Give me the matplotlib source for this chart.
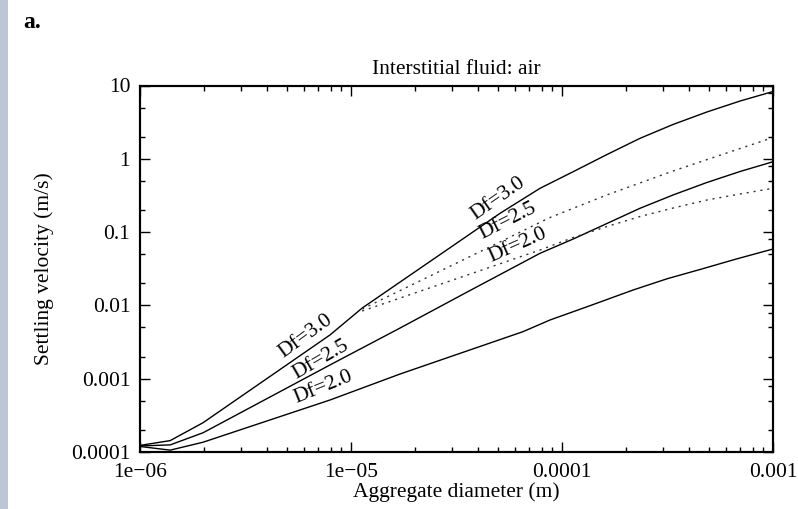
import matplotlib
matplotlib.use("Agg")
import matplotlib.pyplot as plt
from matplotlib.ticker import LogLocator, FixedLocator, FixedFormatter, NullFormatter
from matplotlib.patches import Rectangle

plt.rcParams['font.family'] = ['Liberation Serif', 'DejaVu Serif']
plt.rcParams['font.size'] = 15.5

# aggregate diameter (m) / settling velocity (m/s)
d_df30 = [1.0e-6, 1.39e-6, 1.99e-6, 7.95e-6, 1.13e-5, 3.55e-5, 5.08e-5, 7.87e-5,
          1.13e-4, 1.63e-4, 2.34e-4, 3.36e-4, 4.86e-4, 6.98e-4, 1.0e-3]
v_df30 = [1.23e-4, 1.43e-4, 2.51e-4, 3.95e-3, 9.2e-3, 0.0885, 0.18, 0.396,
          0.667, 1.14, 1.90, 2.94, 4.35, 6.14, 8.28]

d_df25 = [1.0e-6, 1.39e-6, 1.99e-6, 7.95e-6, 1.71e-5, 3.55e-5, 7.87e-5, 1.13e-4,
          2.34e-4, 3.36e-4, 4.86e-4, 6.98e-4, 1.0e-3]
v_df25 = [1.21e-4, 1.25e-4, 1.83e-4, 1.54e-3, 4.92e-3, 0.0152, 0.0514, 0.0805,
          0.211, 0.321, 0.475, 0.671, 0.912]

d_df20 = [1.0e-6, 1.39e-6, 1.99e-6, 7.95e-6, 1.71e-5, 6.53e-5, 8.77e-5, 1.36e-4,
          2.17e-4, 3.15e-4, 4.51e-4, 6.75e-4, 1.0e-3]
v_df20 = [1.19e-4, 1.06e-4, 1.36e-4, 5.12e-4, 1.16e-3, 4.38e-3, 6.32e-3, 9.93e-3,
          0.0162, 0.0231, 0.0309, 0.0432, 0.0588]

# dotted (alternative) curves, starting at ~1.1e-5 m
d_dot25 = [1.13e-5, 2.45e-5, 5.08e-5, 8.77e-5, 1.63e-4, 3.36e-4, 6.98e-4, 1.0e-3]
v_dot25 = [8.93e-3, 0.0264, 0.0733, 0.158, 0.321, 0.682, 1.38, 1.95]

d_dot20 = [1.13e-5, 2.94e-5, 7.87e-5, 1.13e-4, 1.63e-4, 2.34e-4, 3.36e-4,
           4.86e-4, 6.98e-4, 1.0e-3]
v_dot20 = [8.39e-3, 0.0215, 0.0570, 0.0844, 0.119, 0.163, 0.213,
           0.274, 0.331, 0.396]

# curve labels: text, x, y, angle
labels = [
    ("Df=3.0", 6.1e-6, 3.8e-3, 36),
    ("Df=2.5", 7.2e-6, 1.80e-3, 30),
    ("Df=2.0", 7.4e-6, 7.6e-4, 22),
    ("Df=3.0", 4.98e-5, 0.29, 35),
    ("Df=2.5", 5.55e-5, 0.143, 27),
    ("Df=2.0", 6.2e-5, 0.066, 24),
]

xticks = [1e-6, 1e-5, 1e-4, 1e-3]
xticklabels = ["1e\u221206", "1e\u221205", "0.0001", "0.001"]
yticks = [1e-4, 1e-3, 1e-2, 1e-1, 1, 10]
yticklabels = ["0.0001", "0.001", "0.01", "0.1", "1", "10"]

fig = plt.figure(figsize=(7.98, 5.09), dpi=100)
fig.patches.append(Rectangle((0, 0), 8 / 798, 1, transform=fig.transFigure,
                             facecolor="#bdc6d4", edgecolor="none"))
ax = fig.add_axes([140 / 798, 1 - 452 / 509, 633 / 798, 366.5 / 509])

ax.plot(d_df30, v_df30, color="k", lw=1.0)
ax.plot(d_df25, v_df25, color="k", lw=1.0)
ax.plot(d_df20, v_df20, color="k", lw=1.0)
ax.plot(d_dot25, v_dot25, color="#333333", lw=1.0, ls=(0, (1.5, 3.5)))
ax.plot(d_dot20, v_dot20, color="#333333", lw=1.0, ls=(0, (1.5, 3.5)))

for txt, x, y, ang in labels:
    ax.text(x, y, txt, rotation=ang, rotation_mode="anchor",
            ha="center", va="center", fontsize=15.5)

ax.set_xscale("log")
ax.set_yscale("log")
ax.set_xlim(1e-6, 1e-3)
ax.set_ylim(1e-4, 10)

ax.xaxis.set_major_locator(FixedLocator(xticks))
ax.xaxis.set_major_formatter(FixedFormatter(xticklabels))
ax.xaxis.set_minor_locator(LogLocator(base=10, subs=range(2, 10)))
ax.xaxis.set_minor_formatter(NullFormatter())
ax.yaxis.set_major_locator(FixedLocator(yticks))
ax.yaxis.set_major_formatter(FixedFormatter(yticklabels))
ax.yaxis.set_minor_locator(LogLocator(base=10, subs=(2, 5)))
ax.yaxis.set_minor_formatter(NullFormatter())

ax.tick_params(which="both", direction="in", top=True, right=False, width=1.0)
ax.tick_params(which="major", length=7)
ax.tick_params(which="minor", length=3.5)
ax.tick_params(axis="x", pad=8)
ax.tick_params(axis="y", pad=7)

# right-hand axis carries its own tick set (2, 5, 8 minors)
ax2 = ax.twinx()
ax2.set_yscale("log")
ax2.set_ylim(1e-4, 10)
ax2.yaxis.set_major_locator(FixedLocator(yticks))
ax2.yaxis.set_minor_locator(LogLocator(base=10, subs=(2, 5, 8)))
ax2.tick_params(which="both", direction="in", labelright=False, width=1.0)
ax2.tick_params(which="major", length=7)
ax2.tick_params(which="minor", length=3.5)

for a in (ax, ax2):
    for s in a.spines.values():
        s.set_linewidth(1.5)

ax.set_title("Interstitial fluid: air", fontsize=15.5, pad=8)
ax.set_xlabel("Aggregate diameter (m)", labelpad=0)
ax.set_ylabel("Settling velocity (m/s)", labelpad=12)

fig.text(23 / 798, 1 - 28 / 509, "a.", fontsize=17, fontweight="bold", ha="left", va="baseline")

fig.savefig("out.png", dpi=100)
